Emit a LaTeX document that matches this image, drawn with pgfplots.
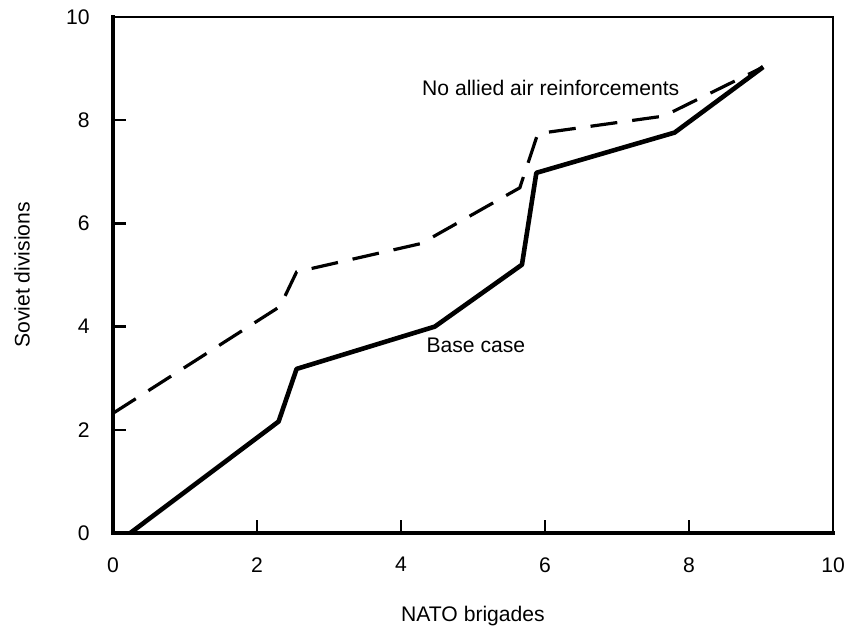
\documentclass[border=0pt]{standalone}
\usepackage{fontspec}
\setmainfont{Liberation Sans}
\usepackage{pgfplots}
\pgfplotsset{compat=1.18}

\begin{document}
\fontsize{10.6}{12}\selectfont
\begin{tikzpicture}
% page frame: 845x630 px at 0.5bp per px, axis corner at px (113,533)
\useasboundingbox (-56.5bp,-48.5bp) rectangle (366bp,266.5bp);
\begin{axis}[
    at={(0,0)}, anchor=south west,
    scale only axis,
    width=360bp, height=258bp,
    xmin=0, xmax=10, ymin=0, ymax=10,
    xtick={0,2,...,10}, ytick={0,2,...,10},
    tick pos=left,
    tick align=inside,
    major tick length=6.5bp,
    every tick/.style={black, line width=1.2bp},
    axis line style={line width=1.1bp},
    /pgf/number format/assume math mode=true,
    xticklabel style={anchor=north, inner sep=0pt, yshift=-12bp},
    yticklabel style={anchor=east, inner sep=0pt, xshift=-11.5bp},
    xlabel={NATO brigades},
    ylabel={Soviet divisions},
    xlabel style={at={(axis description cs:0.5,0)}, anchor=center, yshift=-41.5bp},
    ylabel style={at={(axis description cs:0,0.5)}, anchor=center, yshift=45.5bp},
    clip=false,
]
% heavier left and bottom spines, as in the scan
\draw[line width=2.2bp, line cap=rect] (axis description cs:0,1) -- (axis description cs:0,0) -- (axis description cs:1,0);
% Base case
\addplot[black, line width=2.3bp, line join=round] coordinates {
    (0.24,0) (2.30,2.16) (2.55,3.18) (4.47,4.00) (5.68,5.20)
    (5.88,6.98) (7.80,7.76) (9.03,9.03)
};
% No allied air reinforcements
\addplot[black, line width=1.6bp, dash pattern=on 13.5bp off 7.5bp] coordinates {
    (0,2.32) (2.32,4.39) (2.55,5.06) (4.28,5.61) (5.65,6.69)
    (5.90,7.74) (7.65,8.08) (9.03,9.03)
};
\node at (axis cs:6.08,8.62) {No allied air reinforcements};
\node at (axis cs:5.04,3.64) {Base case};
\end{axis}
\end{tikzpicture}
\end{document}
